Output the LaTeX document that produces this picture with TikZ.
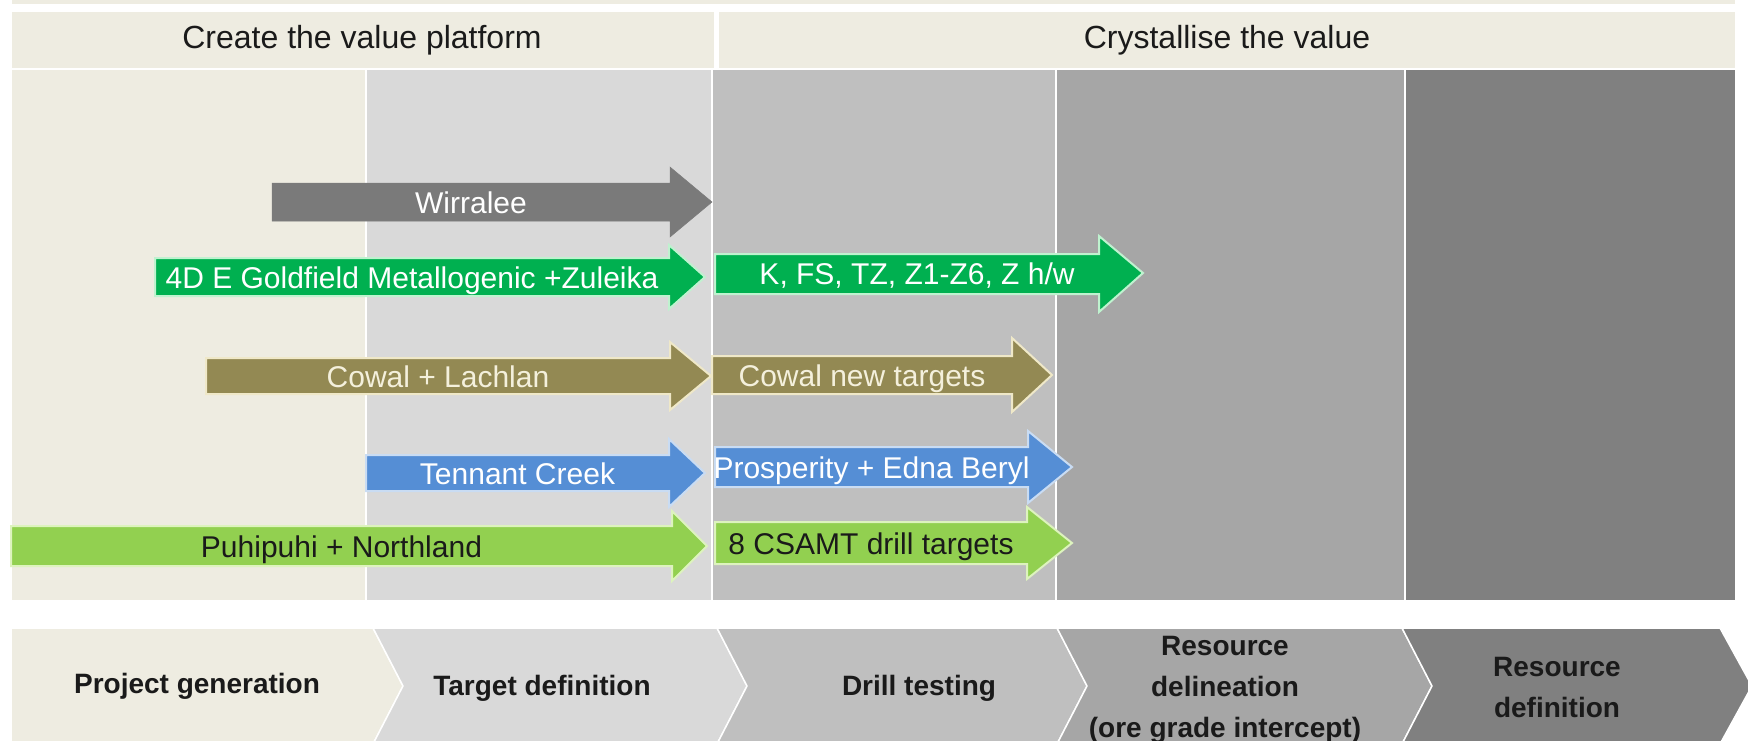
\documentclass[tikz,border=0pt]{standalone}
\usepackage{fontspec}
\setmainfont{Liberation Sans}
\definecolor{cBeige}{HTML}{EEECE1}
\definecolor{cG1}{HTML}{D9D9D9}
\definecolor{cG2}{HTML}{BFBFBF}
\definecolor{cG3}{HTML}{A6A6A6}
\definecolor{cG4}{HTML}{808080}
\definecolor{aGray}{HTML}{7A7A7A}
\definecolor{aGreen}{HTML}{00B050}
\definecolor{aGreenL}{HTML}{BFF2CF}
\definecolor{aOlive}{HTML}{938953}
\definecolor{aOliveL}{HTML}{EFE8C8}
\definecolor{aBlue}{HTML}{558ED5}
\definecolor{aBlueL}{HTML}{C9DCF3}
\definecolor{aLime}{HTML}{92D050}
\definecolor{aLimeL}{HTML}{DDF3BE}
\definecolor{txtDark}{HTML}{1A1A1A}
\definecolor{txtCream}{HTML}{F4F0DC}
\newcommand{\myarrow}[9]{%
  \filldraw[a-#2] (#3,#6-#7) -- (#4,#6-#7) -- (#4,#6-#8) -- (#5,#6) -- (#4,#6+#8) -- (#4,#6+#7) -- (#3,#6+#7) -- cycle;
  \node[t-#2] (#1) at ({(#3+#4)/2},#6+11) {#9};}
\begin{document}
\begin{tikzpicture}[x=1pt,y=-1pt,
  arrtxt/.style={inner sep=0pt, anchor=base, font=\fontsize{30}{36}\selectfont},
  a-gray/.style={fill=aGray, draw=aGray, line width=0.5},
  a-green/.style={fill=aGreen, draw=aGreenL, line width=2},
  a-olive/.style={fill=aOlive, draw=aOliveL, line width=2},
  a-blue/.style={fill=aBlue, draw=aBlueL, line width=2},
  a-lime/.style={fill=aLime, draw=aLimeL, line width=2},
  t-gray/.style={arrtxt, text=white},
  t-green/.style={arrtxt, text=white},
  t-olive/.style={arrtxt, text=txtCream},
  t-blue/.style={arrtxt, text=white},
  t-lime/.style={arrtxt, text=txtDark},
  hdrtxt/.style={inner sep=0pt, text=txtDark, font=\fontsize{32}{38}\selectfont},
  chev/.style={draw=white, line width=1.5},
  chevtxt/.style={inner sep=0pt, align=center, text=txtDark, font=\fontsize{28}{41}\bfseries\selectfont}]
\useasboundingbox (0,0) rectangle (1748,741);
\clip (0,0) rectangle (1748,741);
\fill[white] (0,0) rectangle (1748,741);
% top strip
\fill[cBeige] (12,0) rectangle (1735,4);
% header
\fill[cBeige] (12,12) rectangle (714,68);
\fill[cBeige] (719,12) rectangle (1735,68);
\node[hdrtxt] (h1) at (362,40) {Create the value platform};
\node[hdrtxt] (h2) at (1227,40) {Crystallise the value};
% columns
\fill[cBeige] (12,70) rectangle (365,600);
\fill[cG1] (367,70) rectangle (711,600);
\fill[cG2] (713,70) rectangle (1055,600);
\fill[cG3] (1057,70) rectangle (1404,600);
\fill[cG4] (1406,70) rectangle (1735,600);
% chevrons
\filldraw[chev, fill=cBeige] (11,628) -- (373,628) -- (403,686) -- (373,744) -- (11,744) -- cycle;
\filldraw[chev, fill=cG1] (373,628) -- (717,628) -- (747,686) -- (717,744) -- (373,744) -- (403,686) -- cycle;
\filldraw[chev, fill=cG2] (717,628) -- (1057,628) -- (1087,686) -- (1057,744) -- (717,744) -- (747,686) -- cycle;
\filldraw[chev, fill=cG3] (1057,628) -- (1402,628) -- (1432,686) -- (1402,744) -- (1057,744) -- (1087,686) -- cycle;
\filldraw[chev, fill=cG4] (1402,628) -- (1720,628) -- (1752,686) -- (1720,744) -- (1402,744) -- (1432,686) -- cycle;
\node[chevtxt] (c1) at (197,686) {Project generation};
\node[chevtxt] (c2) at (542,688) {Target definition};
\node[chevtxt] (c3) at (919,688) {Drill testing};
\node[chevtxt] (c4) at (1225,690) {Resource\\delineation\\(ore grade intercept)};
\node[chevtxt] (c5) at (1557,687) {Resource\\definition};
% arrows
\myarrow{wirralee}{gray}{272}{670}{712}{202}{19}{35}{Wirralee}
\myarrow{goldfield}{green}{155}{669}{705}{277}{19}{32}{4D E Goldfield Metallogenic +Zuleika}
\filldraw[a-green] (715,254) -- (1099,254) -- (1099,236) -- (1143,273) -- (1099,312) -- (1099,294) -- (715,294) -- cycle;
\node[t-green] (kfs) at (917,284) {K, FS, TZ, Z1-Z6, Z h/w};
\myarrow{cowal}{olive}{206}{670}{711}{376}{18}{34}{Cowal + Lachlan}
\myarrow{cowalnew}{olive}{712}{1012}{1052}{375}{19}{37}{Cowal new targets}
\myarrow{tennant}{blue}{366}{669}{705}{473}{18}{34}{Tennant Creek}
\myarrow{prosperity}{blue}{715}{1028}{1072}{467}{20}{36}{Prosperity + Edna Beryl}
\myarrow{puhipuhi}{lime}{11}{672}{707}{546}{20}{35}{Puhipuhi + Northland}
\myarrow{csamt}{lime}{715}{1027}{1072}{543}{21}{36}{8 CSAMT drill targets}
\end{tikzpicture}
\end{document}
